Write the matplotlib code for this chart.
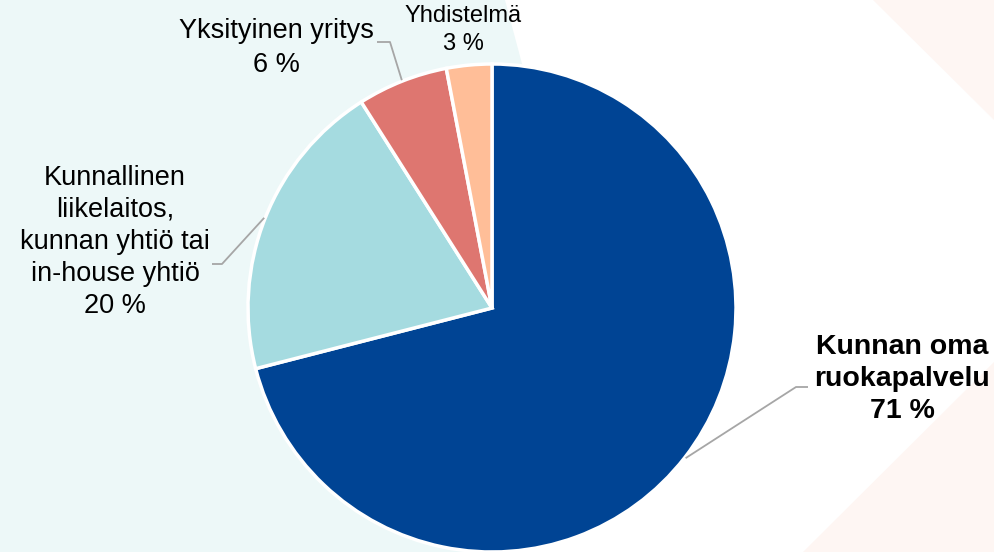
import numpy as np
import matplotlib.pyplot as plt
from matplotlib.patches import Polygon

plt.rcParams['font.family'] = ['Liberation Sans', 'DejaVu Sans']

labels = ['Kunnan oma\nruokapalvelu', 'Kunnallinen\nliikelaitos,\nkunnan yhtiö tai\nin-house yhtiö',
          'Yksityinen yritys', 'Yhdistelmä']
values = [71, 20, 6, 3]
colors = ['#004494', '#A5DBE0', '#DE7670', '#FFBE98']

W, H = 994, 552
fig = plt.figure(figsize=(W / 100, H / 100), dpi=100)
ax = fig.add_axes([0, 0, 1, 1])

# background shapes
ax.add_patch(Polygon([(0, H), (505, H), (545, H - 150), (560, H - 330), (500, 0), (0, 0)],
                     closed=True, fc='#EDF8F8', ec='none', zorder=0))
ax.add_patch(Polygon([(873, H), (W, H), (W, H - 120)], closed=True, fc='#FEF6F3', ec='none', zorder=0))
ax.add_patch(Polygon([(803, 0), (W, 0), (W, 190)], closed=True, fc='#FEF6F3', ec='none', zorder=0))

cx, cy, r = 492, H - 308, 244
wedges, _ = ax.pie(values, colors=colors, startangle=90, counterclock=False,
                   center=(cx, cy), radius=r, frame=True,
                   wedgeprops=dict(edgecolor='white', linewidth=2.5))
ax.set_xlim(0, W)
ax.set_ylim(0, H)
ax.set_aspect('equal')
ax.axis('off')

# label layout: (text x, text y from top, elbow x, elbow y from top, end x, fontsize, bold, spacing)
layout = [
    (902, 379, 796, 387, 808, 20.5, True, 1.30),
    (115, 242, 222, 264, 212, 19.5, False, 1.31),
    (276, 48, 390, 42, 377, 19.5, False, 1.35),
    (463, 30, None, None, None, 17, False, 1.33),
]

for w, lab, v, (tx, ty, ex, ey, endx, fs, bold, ls) in zip(wedges, labels, values, layout):
    txt = f'{lab}\n{v} %'
    ax.text(tx, H - ty, txt, ha='center', va='center', fontsize=fs,
            fontweight='bold' if bold else 'normal', linespacing=ls, color='black')
    if ex is not None:
        mid = np.deg2rad((w.theta1 + w.theta2) / 2)
        sx = cx + (r + 1) * np.cos(mid)
        sy = cy + (r + 1) * np.sin(mid)
        ax.plot([sx, ex, endx], [sy, H - ey, H - ey], color='#A6A6A6', lw=1.3,
                solid_capstyle='butt', zorder=3)

fig.savefig('out.png', dpi=100)
